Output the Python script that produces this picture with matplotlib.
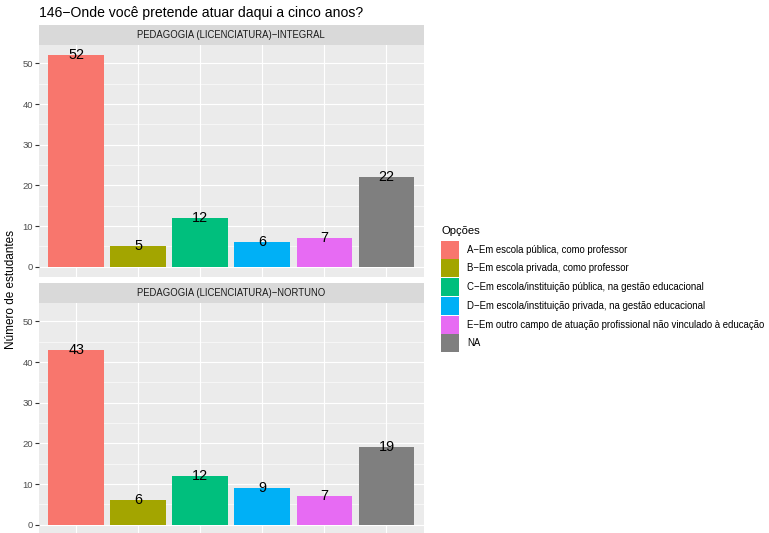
import numpy as np
import matplotlib.pyplot as plt
from matplotlib.patches import Patch
from matplotlib.ticker import MultipleLocator

plt.rcParams["font.family"] = ["Liberation Sans", "DejaVu Sans"]

# Data
cursos = ["PEDAGOGIA (LICENCIATURA)\u2212INTEGRAL", "PEDAGOGIA (LICENCIATURA)\u2212NORTUNO"]
opcoes = [
    "A\u2212Em escola pública, como professor",
    "B\u2212Em escola privada, como professor",
    "C\u2212Em escola/instituição pública, na gestão educacional",
    "D\u2212Em escola/instituição privada, na gestão educacional",
    "E\u2212Em outro campo de atuação profissional não vinculado à educação",
    "NA",
]
integral = [52, 5, 12, 6, 7, 22]
noturno = [43, 6, 12, 9, 7, 19]
cores = ["#F8766D", "#A3A500", "#00BF7D", "#00B0F6", "#E76BF3", "#7F7F7F"]

W, H = 769, 533
fig = plt.figure(figsize=(W / 100, H / 100), dpi=100)

def px_axes(x0, y0, x1, y1):
    # rectangle given in pixels from top-left
    return fig.add_axes([x0 / W, 1 - y1 / H, (x1 - x0) / W, (y1 - y0) / H])

x = np.arange(1, len(opcoes) + 1)
ymax = max(integral + noturno)

paineis = [(integral, 24.7, 44.7, 277.3), (noturno, 282.7, 302.7, 535.3)]
for i, (valores, s0, p0, p1) in enumerate(paineis):
    # strip
    sax = px_axes(39, s0, 423.7, p0)
    sax.set_facecolor("#D9D9D9")
    sax.set_xticks([])
    sax.set_yticks([])
    for sp in sax.spines.values():
        sp.set_visible(False)
    sax.text(0.5, 0.5, cursos[i], ha="center", va="center", fontsize=6.85,
             color="#1A1A1A", transform=sax.transAxes)

    ax = px_axes(39, p0, 423.7, p1)
    ax.set_facecolor("#EBEBEB")
    ax.bar(x, valores, width=0.9, color=cores, zorder=3)
    for xi, v in zip(x, valores):
        ax.text(xi, v, str(v), ha="center", va="center", fontsize=10.4,
                color="black", zorder=4)
    ax.set_xlim(0.4, 6.6)
    ax.set_ylim(-0.05 * ymax, ymax * 1.05)
    ax.yaxis.set_major_locator(MultipleLocator(10))
    ax.yaxis.set_minor_locator(MultipleLocator(5))
    ax.set_xticks(x)
    ax.grid(which="major", color="white", linewidth=0.8, zorder=0)
    ax.grid(which="minor", axis="y", color="white", linewidth=0.4, zorder=0)
    ax.tick_params(axis="y", which="major", length=2.7, width=0.8, color="#333333",
                   labelsize=6.8, labelcolor="#4D4D4D", pad=1.5)
    ax.tick_params(axis="y", which="minor", length=0)
    ax.tick_params(axis="x", length=2.7 if i == 1 else 0, width=0.8,
                   color="#333333", labelbottom=False)
    for sp in ax.spines.values():
        sp.set_visible(False)

fig.text(39 / W, 1 - 12.5 / H, "146\u2212Onde você pretende atuar daqui a cinco anos?",
         ha="left", va="center", fontsize=10.1, color="black")
fig.text(11.5 / W, 1 - 289.5 / H, "Número de estudantes", rotation=90,
         ha="center", va="center", fontsize=8.5, color="black")

handles = [Patch(facecolor=c, edgecolor="none") for c in cores]
leg = fig.legend(handles, opcoes, title="Opções", loc="upper left",
                 bbox_to_anchor=(441 / W, 1 - 226.5 / H), frameon=False,
                 fontsize=6.9, title_fontsize=8.1, handlelength=1.88,
                 handleheight=2.51, labelspacing=0.08, handletextpad=0.84,
                 borderpad=0, borderaxespad=0)
leg._legend_box.align = "left"
leg._legend_box.sep = 3

fig.savefig("out.png", dpi=100)
